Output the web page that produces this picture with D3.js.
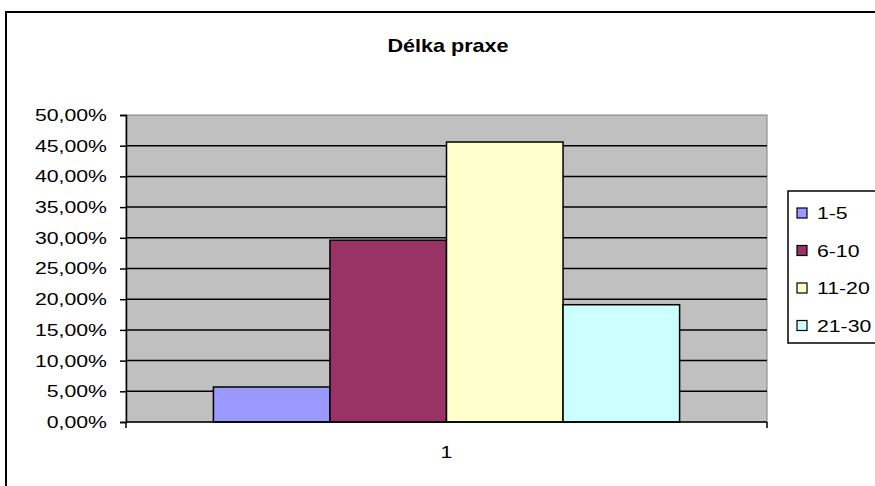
<!DOCTYPE html>
<html>
<head>
<meta charset="utf-8">
<script src="https://cdn.jsdelivr.net/npm/d3@7"></script>
<style>
  body { margin: 0; background: #fff; }
  svg { display: block; font-family: Arial, "Liberation Sans", sans-serif; }
</style>
</head>
<body>
<div id="chart"></div>
<script>
var title = 'Délka praxe';
var categories = ['1'];
var seriesNames = ['1-5', '6-10', '11-20', '21-30'];
var seriesValues = [0.057, 0.296, 0.456, 0.191];
var seriesColors = ['#9999FF', '#993366', '#FFFFCC', '#CCFFFF'];
var yTicks = [0, 0.05, 0.10, 0.15, 0.20, 0.25, 0.30, 0.35, 0.40, 0.45, 0.50];

var width = 875;
var height = 486;
var plot = {left: 126, right: 767, top: 115, bottom: 422};
var stretch = 1.25; // the original text is drawn wide

var csLocale = d3.formatLocale({decimal: ',', thousands: ' ', grouping: [3], currency: ['', ' Kč']});
var percentFormat = csLocale.format('.2%');

// widen text horizontally around its own origin
function widen(sel, sx) {
  sel.each(function() {
    var t = d3.select(this);
    var x = +t.attr('x') || 0;
    t.attr('x', x / sx).attr('transform', 'scale(' + sx + ',1)');
  });
}

var svg = d3.select('#chart')
            .append('svg')
            .attr('width', width)
            .attr('height', height)
            ;

// outer chart frame, runs off the right and bottom edges
svg.append('rect')
   .attr('x', 6)
   .attr('y', 12)
   .attr('width', 900)
   .attr('height', 500)
   .attr('fill', '#fff')
   .attr('stroke', '#000')
   .attr('stroke-width', 2)
   ;

svg.append('g')
   .attr('transform', 'translate(448,52)')
   .append('text')
   .attr('text-anchor', 'middle')
   .style('font-size', '18px')
   .style('font-weight', 'bold')
   .text(title)
   .call(widen, 1.2)
   ;

var y = d3.scaleLinear()
          .domain([0, 0.5])
          .range([plot.bottom, plot.top])
          ;

// gap width 150% -> outer padding 0.75 bar out of 4
var x0 = d3.scaleBand()
           .domain(categories)
           .range([plot.left, plot.right])
           .paddingInner(0)
           .paddingOuter(0.1875)
           ;

var x1 = d3.scaleBand()
           .domain(seriesNames)
           .range([0, x0.bandwidth()])
           .padding(0)
           ;

svg.append('rect')
   .attr('x', plot.left)
   .attr('y', plot.top)
   .attr('width', plot.right - plot.left)
   .attr('height', plot.bottom - plot.top)
   .attr('fill', '#C0C0C0')
   .attr('stroke', '#808080')
   .attr('stroke-width', 1)
   ;

svg.append('g')
   .attr('class', 'grid')
   .selectAll('line')
   .data(yTicks.filter(function(d) { return d > 0 && d < 0.5; }))
   .enter()
   .append('line')
   .attr('x1', plot.left)
   .attr('x2', plot.right)
   .attr('y1', function(d) { return y(d); })
   .attr('y2', function(d) { return y(d); })
   .attr('stroke', '#000')
   .attr('stroke-width', 1.5)
   ;

var groups = svg.append('g')
                .selectAll('g')
                .data(categories)
                .enter()
                .append('g')
                .attr('transform', function(d) { return 'translate(' + x0(d) + ',0)'; })
                ;

groups.selectAll('rect')
      .data(seriesNames.map(function(name, i) {
        return {name: name, value: seriesValues[i], color: seriesColors[i]};
      }))
      .enter()
      .append('rect')
      .attr('x', function(d) { return x1(d.name); })
      .attr('y', function(d) { return y(d.value); })
      .attr('width', x1.bandwidth())
      .attr('height', function(d) { return y(0) - y(d.value); })
      .attr('fill', function(d) { return d.color; })
      .attr('stroke', '#000')
      .attr('stroke-width', 1.5)
      ;

var yAxis = d3.axisLeft(y)
              .tickValues(yTicks)
              .tickSize(6)
              .tickPadding(13)
              .tickFormat(percentFormat)
              ;

var yAxisG = svg.append('g')
                .attr('transform', 'translate(' + plot.left + ',0)')
                .call(yAxis)
                ;
yAxisG.select('.domain').attr('stroke', '#000').attr('stroke-width', 1.5);
yAxisG.selectAll('.tick line').attr('stroke', '#000').attr('stroke-width', 1.5);
yAxisG.selectAll('.tick text')
      .attr('fill', '#000')
      .style('font-size', '17px')
      .style('font-family', 'Arial, "Liberation Sans", sans-serif')
      .call(widen, stretch)
      ;

// category axis: ticks at the category boundaries, label in the middle
var xAxisG = svg.append('g')
                .attr('transform', 'translate(0,' + plot.bottom + ')')
                ;
xAxisG.append('line')
      .attr('x1', plot.left)
      .attr('x2', plot.right)
      .attr('stroke', '#000')
      .attr('stroke-width', 1.5)
      ;
xAxisG.selectAll('.cat-tick')
      .data([plot.left, plot.right])
      .enter()
      .append('line')
      .attr('class', 'cat-tick')
      .attr('x1', function(d) { return d; })
      .attr('x2', function(d) { return d; })
      .attr('y1', 0)
      .attr('y2', 6)
      .attr('stroke', '#000')
      .attr('stroke-width', 1.5)
      ;
xAxisG.selectAll('.cat-label')
      .data(categories)
      .enter()
      .append('g')
      .attr('class', 'cat-label')
      .attr('transform', function(d) { return 'translate(' + (x0(d) + x0.bandwidth() / 2) + ',36)'; })
      .append('text')
      .attr('text-anchor', 'middle')
      .style('font-size', '17px')
      .text(function(d) { return d; })
      .call(widen, stretch)
      ;

// legend
var legend = svg.append('g')
                .attr('transform', 'translate(788,191)')
                ;
legend.append('rect')
      .attr('width', 100)
      .attr('height', 152)
      .attr('fill', '#fff')
      .attr('stroke', '#000')
      .attr('stroke-width', 1.5)
      ;
var items = legend.selectAll('.item')
                  .data(seriesNames)
                  .enter()
                  .append('g')
                  .attr('class', 'item')
                  .attr('transform', function(d, i) { return 'translate(0,' + (22 + i * 37.5) + ')'; })
                  ;
items.append('rect')
     .attr('x', 9)
     .attr('y', -5)
     .attr('width', 10)
     .attr('height', 10)
     .attr('fill', function(d, i) { return seriesColors[i]; })
     .attr('stroke', '#000')
     .attr('stroke-width', 1.2)
     ;
items.append('text')
     .attr('x', 29)
     .attr('y', 6)
     .style('font-size', '17px')
     .text(function(d) { return d; })
     .call(widen, stretch)
     ;
</script>
</body>
</html>
